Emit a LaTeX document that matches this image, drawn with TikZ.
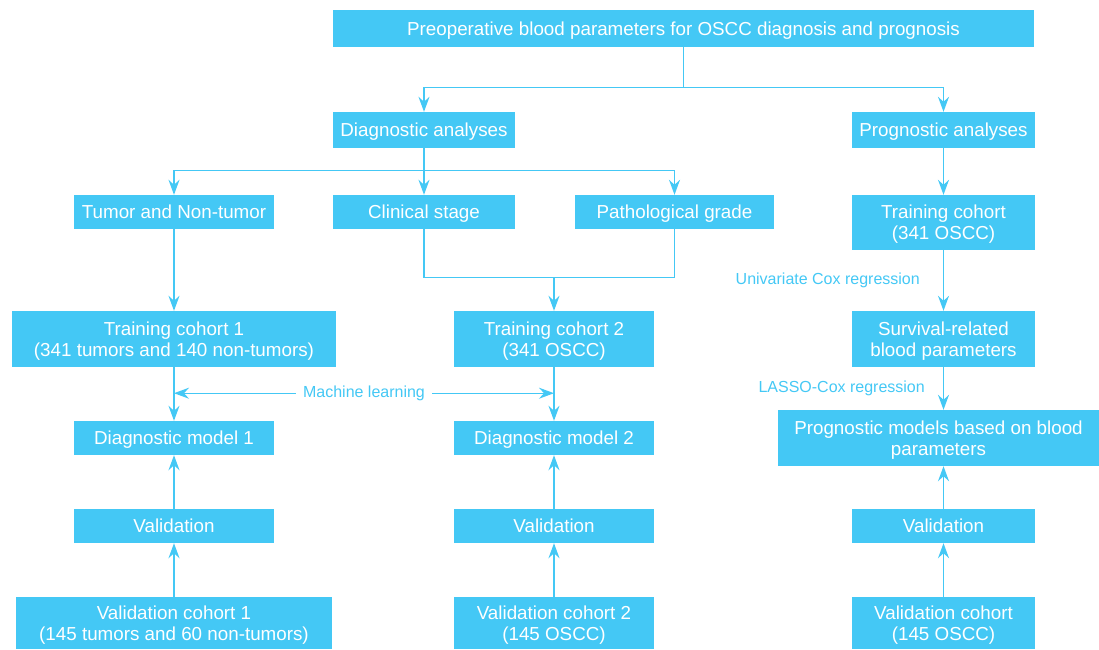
\documentclass[tikz,border=0pt]{standalone}
\usepackage{fontspec}
\setmainfont{Liberation Sans}
\usetikzlibrary{arrows.meta}
\definecolor{sky}{RGB}{68,200,245}
\begin{document}
\begin{tikzpicture}[x=1pt,y=-1pt,
 box/.style={fill=sky,text=white,draw=none,inner sep=0pt,align=center,text depth=0pt,font=\fontsize{18.8}{21}\selectfont},
 one/.style={text height=13.5pt},
 conn/.style={draw=sky,line width=1.4pt},
 tip/.tip={Stealth[length=15pt,width=11pt,inset=5pt]},
 arr/.style={conn,-tip},
 lab/.style={text=sky,font=\fontsize{16}{18}\selectfont,inner sep=0pt}]
\useasboundingbox (0,0) rectangle (1099,649);
% nodes
\node[box,one,minimum width=701pt,minimum height=37pt] (top) at (683.5,28.5) {Preoperative blood parameters for OSCC diagnosis and prognosis};
\node[box,one,minimum width=182pt,minimum height=36pt] (diag) at (424,130) {Diagnostic analyses};
\node[box,one,minimum width=183pt,minimum height=36pt] (prog) at (943.5,130) {Prognostic analyses};
\node[box,one,minimum width=200pt,minimum height=34pt] (tumor) at (174,212) {Tumor and Non-tumor};
\node[box,one,minimum width=182pt,minimum height=34pt] (clin) at (424,212) {Clinical stage};
\node[box,one,minimum width=199pt,minimum height=34pt] (path) at (674.5,212) {Pathological grade};
\node[box,minimum width=183pt,minimum height=55pt] (trainR) at (943.5,222.5) {Training cohort\\(341 OSCC)};
\node[box,minimum width=324pt,minimum height=56pt] (train1) at (174,339) {Training cohort 1\\(341 tumors and 140 non-tumors)};
\node[box,minimum width=200pt,minimum height=56pt] (train2) at (554,339) {Training cohort 2\\(341 OSCC)};
\node[box,minimum width=183pt,minimum height=56pt] (surv) at (943.5,339) {Survival-related\\blood parameters};
\node[box,one,minimum width=200pt,minimum height=34pt] (dm1) at (174,438) {Diagnostic model 1};
\node[box,one,minimum width=200pt,minimum height=34pt] (dm2) at (554,438) {Diagnostic model 2};
\node[box,minimum width=321pt,minimum height=56pt] (progmod) at (938.5,438) {Prognostic models based on blood\\parameters};
\node[box,one,minimum width=200pt,minimum height=34pt] (val1) at (174,526) {Validation};
\node[box,one,minimum width=200pt,minimum height=34pt] (val2) at (554,526) {Validation};
\node[box,one,minimum width=183pt,minimum height=34pt] (valR) at (943.5,526) {Validation};
\node[box,minimum width=316pt,minimum height=52pt] (vc1) at (174,623) {Validation cohort 1\\(145 tumors and 60 non-tumors)};
\node[box,minimum width=200pt,minimum height=52pt] (vc2) at (554,623) {Validation cohort 2\\(145 OSCC)};
\node[box,minimum width=183pt,minimum height=52pt] (vcR) at (943.5,623) {Validation cohort\\(145 OSCC)};
% top fork
\draw[arr] (top.south) -- ++(0,40) -| (diag.north);
\draw[arr] (top.south) -- ++(0,40) -| (prog.north);
% diagnostic fork
\draw[arr] (diag.south) -- ++(0,22) -| (tumor.north);
\draw[arr] (diag.south) -- (clin.north);
\draw[arr] (diag.south) -- ++(0,22) -| (path.north);
% join clinical + pathological
\draw[conn] (clin.south) -- ++(0,48) -| (path.south);
\draw[arr] ([yshift=-48pt]clin.south -| train2.north) -- (train2.north);
\draw[arr] (tumor.south) -- (train1.north);
% training to models
\draw[arr] (train1.south) -- (dm1.north);
\draw[arr] (train2.south) -- (dm2.north);
\coordinate (mlL) at ([yshift=-26pt]train1.south);
\coordinate (mlR) at (mlL -| train2.south);
\draw[conn,tip-tip] (mlL) -- node[lab,fill=white,inner xsep=7pt,inner ysep=2pt] (ml) {Machine learning} (mlR);
% validation
\draw[arr] (vc1.north) -- (val1.south);
\draw[arr] (val1.north) -- (dm1.south);
\draw[arr] (vc2.north) -- (val2.south);
\draw[arr] (val2.north) -- (dm2.south);
% prognostic column
\draw[arr] (prog.south) -- (trainR.north);
\draw[arr] (trainR.south) -- (surv.north);
\draw[arr] (surv.south) -- (surv.south |- progmod.north);
\draw[arr] (vcR.north) -- (valR.south);
\draw[arr] (valR.north) -- (valR.north |- progmod.south);
\node[lab,anchor=east] (uni) at (920,280) {Univariate Cox regression};
\node[lab,anchor=east] (lasso) at (925,388) {LASSO-Cox regression};
\end{tikzpicture}
\end{document}
